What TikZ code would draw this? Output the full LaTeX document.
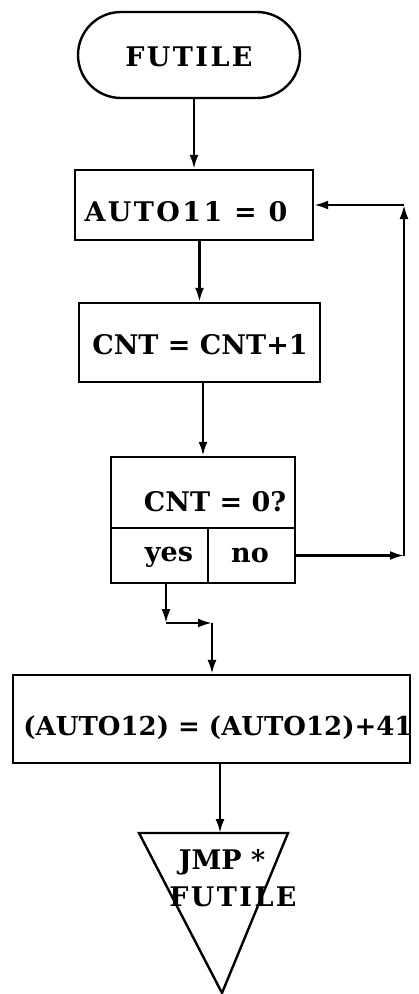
\documentclass[tikz,border=0pt]{standalone}
\usepackage{fontspec}
\setmainfont{DejaVu Serif}
\usetikzlibrary{arrows.meta}
\tikzset{
  ln/.style={line width=2.4pt},
  arr/.style={ln,-{Latex[length=14pt,width=9pt]}},
  boxnode/.style={draw,ln,rectangle,inner sep=0pt},
  txt/.style={font=\fontsize{27}{30}\selectfont\bfseries,inner sep=0pt},
  wide/.style={font=\fontsize{27}{30}\selectfont\bfseries\addfontfeature{LetterSpace=9}}
}
\begin{document}
\begin{tikzpicture}[x=1pt,y=-1pt]
\useasboundingbox (0,0) rectangle (419,994);
% shapes
\node[boxnode,rounded corners=43pt,minimum width=222pt,minimum height=86pt] (start) at (189,55) {};
\node[boxnode,minimum width=238pt,minimum height=70pt] (b1) at (194,205) {};
\node[boxnode,minimum width=241pt,minimum height=79pt] (b2) at (199.5,342.5) {};
\node[boxnode,minimum width=184pt,minimum height=71pt] (dec) at (203,492.5) {};
\node[boxnode,minimum width=97pt,minimum height=55pt] (yes) at (159.5,555.5) {};
\node[boxnode,minimum width=87pt,minimum height=55pt] (no) at (251.5,555.5) {};
\node[boxnode,minimum width=397pt,minimum height=88pt] (b3) at (211.5,719) {};
\coordinate (tl) at (139,833);
\coordinate (tr) at (288,833);
\coordinate (tb) at (222,993);
\coordinate (tritop) at (220,833);
\draw[ln,line join=miter] (tl) -- (tr) -- (tb) -- cycle;
% texts
\node[txt,wide] (t0) at (189,57) {FUTILE};
\node[txt,wide] (t1) at (186,212) {AUTO11 = 0};
\node[txt] (t2) at (200,345) {CNT = CNT+1};
\node[txt] (t3) at (215,502) {CNT = 0?};
\node[txt] (t4) at (169,557) {yes};
\node[txt] (t5) at (250,555) {no};
\node[txt,font=\fontsize{26}{30}\selectfont\bfseries] (t6) at (218,728) {(AUTO12) = (AUTO12)+41};
\node[txt] (t7) at (222,862) {JMP *};
\node[txt,wide] (t8) at (233,897) {FUTILE};
% connectors
\coordinate (j1) at (166,623);
\coordinate (j2) at (212,623);
\coordinate (rx) at (404,0);
\draw[arr] (start.south -| b1.north) -- (b1.north);
\draw[arr] (b1.south -| b2.north) -- (b2.north);
\draw[arr] (b2.south -| dec.north) -- (dec.north);
\draw[arr] (yes.south -| j1) -- (j1);
\draw[arr] (j1) -- (j2);
\draw[arr] (j2) -- (j2 |- b3.north);
\draw[arr] (no.east) -- (no.east -| rx);
\draw[arr] (no.east -| rx) -- (b1.east -| rx);
\draw[arr] (b1.east -| rx) -- (b1.east);
\draw[arr] (b3.south -| tritop) -- (tritop);
\end{tikzpicture}
\end{document}
